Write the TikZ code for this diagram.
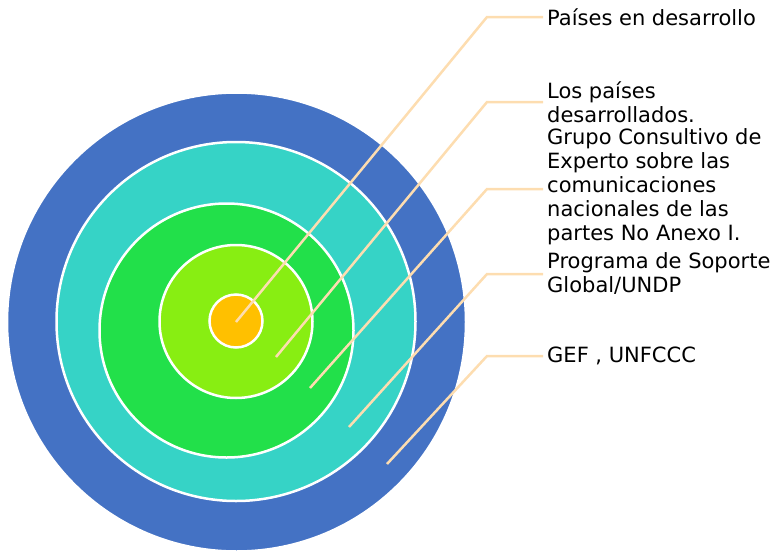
\documentclass[tikz,border=0pt]{standalone}
\usepackage{fontspec}
\setmainfont{DejaVu Sans}
\usetikzlibrary{calc}
\definecolor{ringblue}{HTML}{4472C4}
\definecolor{ringteal}{HTML}{36D3C6}
\definecolor{ringgreen}{HTML}{22E04A}
\definecolor{ringlime}{HTML}{88EE12}
\definecolor{ringorange}{HTML}{FFC000}
\definecolor{leader}{HTML}{FDDDB0}
\begin{document}
\begin{tikzpicture}[x=1pt,y=-1pt]
 		\tikzstyle{ring}=[draw=white,line width=2.5pt,circle,inner sep=0pt]
 		\tikzstyle{lead}=[draw=leader,line width=2.5pt]
 		\tikzstyle{txt}=[anchor=west,align=left,inner sep=0pt,font=\fontsize{21}{24}\selectfont]
 		\useasboundingbox (0,0) rectangle (776,554);

 		\node[ring,fill=ringblue,minimum size=459pt] (gef) at (236.5,322) {};
 		\node[ring,fill=ringteal,minimum size=359pt] (undp) at (236,321.5) {};
 		\node[ring,fill=ringgreen,minimum size=254pt] (grupo) at (226.5,330.5) {};
 		\node[ring,fill=ringlime,minimum size=153pt] (desa) at (236,321.5) {};
 		\node[ring,fill=ringorange,minimum size=53pt] (dev) at (236,321) {};

 		\coordinate (p1) at (236,322);
 		\coordinate (p2) at (276,357);
 		\coordinate (p3) at (310,388);
 		\coordinate (p4) at (349,427);
 		\coordinate (p5) at (387,464);

 		\node[txt] (t1) at (547,17) {Países en desarrollo};
 		\node[txt] (t2) at (547,102) {Los países\\desarrollados.};
 		\node[txt] (t3) at (547,187) {Grupo Consultivo de\\Experto sobre las\\comunicaciones\\nacionales de las\\partes No Anexo I.};
 		\node[txt] (t4) at (547,273) {Programa de Soporte\\Global/UNDP};
 		\node[txt] (t5) at (547,356) {GEF , UNFCCC};

 		\draw[lead] (p1) -- (487,17) -- ($(t1.west)+(-4,0)$);
 		\draw[lead] (p2) -- (487,102) -- ($(t2.west)+(-4,0)$);
 		\draw[lead] (p3) -- (487,189) -- ($(t3.west)+(-4,2)$);
 		\draw[lead] (p4) -- (487,274) -- ($(t4.west)+(-4,1)$);
 		\draw[lead] (p5) -- (487,356) -- ($(t5.west)+(-4,0)$);
 	\end{tikzpicture}
\end{document}
